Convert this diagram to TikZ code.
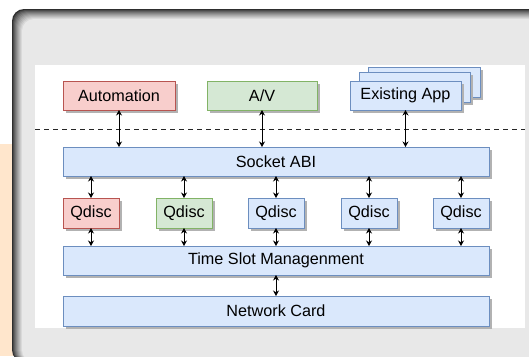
\documentclass[tikz,border=0pt]{standalone}
\usepackage{fontspec}
\setmainfont{Liberation Sans}
\usetikzlibrary{arrows.meta,shadows}
\definecolor{redfill}{HTML}{F8CECC}
\definecolor{rededge}{HTML}{B85450}
\definecolor{greenfill}{HTML}{D5E8D4}
\definecolor{greenedge}{HTML}{82B366}
\definecolor{bluefill}{HTML}{DAE8FC}
\definecolor{blueedge}{HTML}{6C8EBF}
\definecolor{panelgray}{HTML}{E8E8E8}
\definecolor{darkedge}{HTML}{2E2E2E}
\definecolor{peach}{HTML}{FFE6CC}
\begin{document}
\begin{tikzpicture}[x=1pt,y=-1pt,
  box/.style={draw, line width=0.8pt, minimum height=29pt, inner sep=0pt, outer sep=0pt,
    text=black, font=\fontsize{16.2}{19}\selectfont,
    drop shadow={shadow xshift=3pt,shadow yshift=-3pt,fill=black!30,opacity=1}},
  bluebox/.style={box, draw=blueedge, fill=bluefill},
  redbox/.style={box, draw=rededge, fill=redfill},
  greenbox/.style={box, draw=greenedge, fill=greenfill},
  link/.style={{Stealth[length=5.5pt,width=6pt]}-{Stealth[length=5.5pt,width=6pt]}, line width=0.9pt, black}
]
\useasboundingbox (0,0) rectangle (529,356);
\begin{scope}
  \clip (0,0) rectangle (529,356);
  \fill[peach] (0,144) rectangle (14,356);
  \foreach \i in {0,...,10}{
    \pgfmathsetmacro\pct{100*(\i/10)^0.8}
    \fill[panelgray!\pct!darkedge, rounded corners=12pt] (12+\i,9+\i) rectangle (620,362);
  }
  \fill[white] (35,65) rectangle (525,328);
\end{scope}

\coordinate (dl) at (35,129);
\coordinate (dr) at (525,129);
\draw[line width=1pt, dash pattern=on 5pt off 4pt, black!85] (dl) -- (dr);

\node[redbox, minimum width=112pt] (auto) at (119,95.5) {Automation};
\node[greenbox, minimum width=110pt] (av) at (262,95.5) {A/V};
\node[bluebox, minimum width=112pt, minimum height=30pt] (app3) at (424,82) {};
\node[bluebox, minimum width=111pt, minimum height=30pt] (app2) at (414.5,87) {};
\node[bluebox, minimum width=111pt] (app) at (405.5,95.5) {Existing App};

\node[bluebox, minimum width=426pt] (sock) at (276,161.5) {Socket ABI};

\node[redbox, minimum width=56pt, minimum height=30pt] (q1) at (91,213) {Qdisc};
\node[greenbox, minimum width=56pt, minimum height=30pt] (q2) at (184,213) {Qdisc};
\node[bluebox, minimum width=56pt, minimum height=30pt] (q3) at (276,213) {Qdisc};
\node[bluebox, minimum width=56pt, minimum height=30pt] (q4) at (369,213) {Qdisc};
\node[bluebox, minimum width=56pt, minimum height=30pt] (q5) at (461,213) {Qdisc};

\node[bluebox, minimum width=426pt] (tsm) at (276,260.5) {Time Slot Managenment};
\node[bluebox, minimum width=426pt, minimum height=30pt] (nic) at (276,311) {Network Card};

\foreach \n in {auto,av,app}
  \draw[link] (\n.south) -- (\n.south |- sock.north);
\foreach \n in {q1,q2,q3,q4,q5}{
  \draw[link] (\n.north |- sock.south) -- (\n.north);
  \draw[link] (\n.south) -- (\n.south |- tsm.north);
}
\draw[link] (tsm.south) -- (nic.north);
\end{tikzpicture}
\end{document}
